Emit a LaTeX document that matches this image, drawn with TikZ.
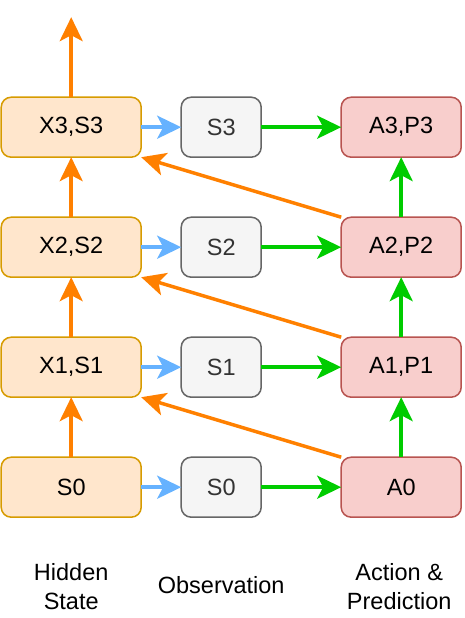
\documentclass[tikz,border=0pt]{standalone}
\usepackage{fontspec}
\setmainfont{Liberation Sans}
\usetikzlibrary{arrows.meta,positioning}
\definecolor{hsfill}{HTML}{FFE6CC}
\definecolor{hsdraw}{HTML}{D79B00}
\definecolor{obfill}{HTML}{F5F5F5}
\definecolor{obdraw}{HTML}{666666}
\definecolor{acfill}{HTML}{F8CECC}
\definecolor{acdraw}{HTML}{B85450}
\definecolor{hsline}{HTML}{FF8000}
\definecolor{obline}{HTML}{66B2FF}
\definecolor{acline}{HTML}{00CC00}
\newcommand{\boxfont}{\fontsize{23.5}{29}\selectfont}
\newcommand{\hsnode}[2]{\node[hsbox] (#1) {#2} ;}
\newcommand{\obnode}[2]{\node[obbox] (#1) {#2} ;}
\newcommand{\acnode}[2]{\node[acbox] (#1) {#2} ;}
\tikzset{
    box/.style={
        draw,
        rounded corners=10pt,
        line width=1.5pt,
        inner sep=0,
        outer sep=0,
        minimum height=60pt,
        font=\boxfont,
    },
    hsbox/.style={box, fill=hsfill, draw=hsdraw, minimum width=140pt},
    obbox/.style={box, fill=obfill, draw=obdraw, text=black!80, minimum width=80pt},
    acbox/.style={box, fill=acfill, draw=acdraw, minimum width=120pt},
    state grid/.style={
        row sep=58.5pt,
        column sep=38.5pt,
        inner sep=0pt,
    },
    flow/.style={
        line width=3.5pt,
        -{Stealth[length=24pt,width=23pt,inset=6pt]},
    },
    hsflow/.style={flow, draw=hsline},
    obflow/.style={flow, draw=obline},
    acflow/.style={flow, draw=acline},
    caption/.style={align=center, inner sep=0, font=\boxfont},
}

\begin{document}
\begin{tikzpicture}[x=1pt,y=1pt]
    \useasboundingbox (0,0) rectangle (464,618);

    \matrix (grid) [state grid, anchor=north west] at (0.25,521.75) {
        \hsnode{H3}{X3,S3} & \obnode{O3}{S3} &[40pt] \acnode{A3}{A3,P3} \\
        \hsnode{H2}{X2,S2} & \obnode{O2}{S2} &[40pt] \acnode{A2}{A2,P2} \\
        \hsnode{H1}{X1,S1} & \obnode{O1}{S1} &[40pt] \acnode{A1}{A1,P1} \\
        \hsnode{H0}{S0}    & \obnode{O0}{S0} &[40pt] \acnode{A0}{A0}    \\
    } ;

    % captions under the columns
    \node[caption] (hslabel) at ([yshift=-99pt]H0.center) {Hidden\\State};
    \node[caption] (oblabel) at ([yshift=-98pt]O0.center) {Observation};
    \node[caption] (aclabel) at ([xshift=-2pt,yshift=-99pt]A0.center) {Action \&\\Prediction};

    \coordinate (out) at ([yshift=80pt]H3.north);
    \draw[hsflow] (H3.north) -- (out);

    \foreach \i/\j in {0/1,1/2,2/3} {
        \draw[hsflow] (H\i) -- (H\j);
        \draw[acflow] (A\i) -- (A\j);
        \draw[hsflow] (A\i.north west) -- (H\j.south east);
    }
    \foreach \i in {0,...,3} {
        \draw[obflow] (H\i) -- (O\i);
        \draw[acflow] (O\i) -- (A\i);
    }
\end{tikzpicture}
\end{document}
